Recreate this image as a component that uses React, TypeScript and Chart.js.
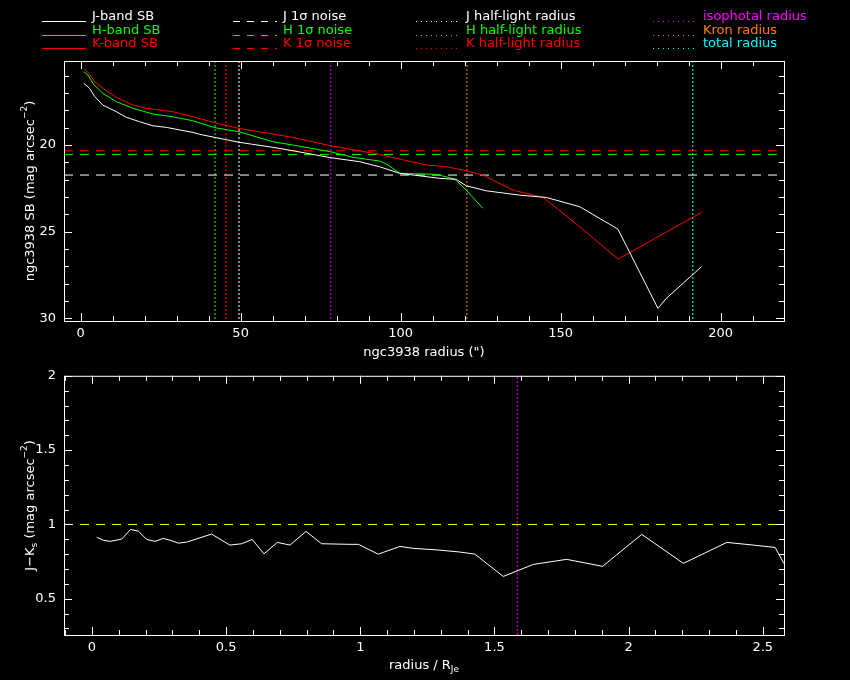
import { useEffect, useRef } from "react"
import { Chart, registerables } from "chart.js"

Chart.register(...registerables)

// surface brightness profiles, radius in arcsec, SB in mag arcsec^-2
const jRadius = [1, 2.8, 4.4, 7, 11.2, 14.3, 18.4, 22.6, 26.8, 31, 35.1, 37.2, 42, 49.5, 60.1, 66.4, 78.2, 87.2, 93.4, 99.7, 112.2, 117.4, 120.5, 126.8, 137.2, 145.5, 156, 167.9, 180.4, 183, 194]
const jSb = [16.44, 16.73, 17.2, 17.7, 18.08, 18.4, 18.65, 18.89, 18.98, 19.13, 19.27, 19.38, 19.56, 19.84, 20.13, 20.33, 20.73, 20.96, 21.25, 21.63, 21.92, 21.98, 22.35, 22.64, 22.89, 23.02, 23.56, 24.85, 29.42, 28.85, 27.02]
const hRadius = [1, 2.3, 4.2, 7, 11.2, 16.4, 22.6, 28.9, 35.1, 42, 49.5, 60.1, 66.4, 78.2, 85.1, 93.4, 96.1, 99.7, 111.2, 116.9, 120.5, 125.7]
const hSb = [15.77, 15.96, 16.54, 17.02, 17.5, 17.88, 18.21, 18.37, 18.6, 19.0, 19.23, 19.81, 20.0, 20.39, 20.71, 20.92, 21.15, 21.63, 21.69, 21.96, 22.6, 23.65]
const kRadius = [1, 2.6, 4.4, 7, 11.2, 16.4, 20.5, 28.9, 35.1, 42, 49.5, 66.4, 78.2, 87.2, 93.4, 97.6, 108, 114.3, 120.5, 125.7, 135.1, 144.5, 156, 167.9, 180.4, 194]
const kSb = [15.58, 15.86, 16.35, 16.73, 17.25, 17.69, 17.88, 18.08, 18.37, 18.71, 19.04, 19.56, 20.04, 20.33, 20.54, 20.72, 21.15, 21.25, 21.48, 21.73, 22.6, 23.02, 24.71, 26.58, 25.29, 23.89]

const bandNames = ["J", "H", "K"]
const bandColors = ["#ffffff", "#00ff00", "#ff0000"]
const noiseLevels = [21.73, 20.54, 20.33] // J, H, K 1 sigma
const halfLightRadii = [49.5, 42.0, 45.4] // J, H, K
const apertureNames = ["isophotal radius", "Kron radius", "total radius"]
const apertureColors = ["#ff00ff", "#ff8000", "#00ffff"]
const apertureRadii = [78.2, 120.7, 191.3]

const radiusRange = [-5.2, 219.8]
const sbRange = [15.15, 30.15]
const radiusTicks = [0, 50, 100, 150, 200]
const sbTicks = [20, 25, 30]

// J-Ks colour profile against radius / R_Je
const relRadius = [0.018, 0.042, 0.067, 0.111, 0.144, 0.173, 0.204, 0.235, 0.266, 0.291, 0.322, 0.353, 0.446, 0.514, 0.558, 0.597, 0.641, 0.691, 0.738, 0.798, 0.856, 0.962, 0.993, 1.067, 1.148, 1.198, 1.297, 1.372, 1.427, 1.533, 1.645, 1.769, 1.903, 2.049, 2.204, 2.366, 2.465, 2.546, 2.577, 2.61]
const colourJK = [0.913, 0.894, 0.886, 0.901, 0.966, 0.955, 0.899, 0.886, 0.906, 0.894, 0.874, 0.881, 0.935, 0.861, 0.87, 0.899, 0.802, 0.879, 0.861, 0.953, 0.87, 0.866, 0.866, 0.8, 0.852, 0.839, 0.827, 0.814, 0.8, 0.65, 0.731, 0.765, 0.718, 0.933, 0.738, 0.879, 0.861, 0.845, 0.742, 0.67]
const colourReference = 1
const isophotalRelRadius = 1.585
const relRadiusRange = [-0.104, 2.579]
const colourRange = [0.256, 2.0]
const relRadiusTicks = [0, 0.5, 1, 1.5, 2, 2.5]
const colourTicks = [0.5, 1, 1.5, 2]

const FONT = "'DejaVu Sans', sans-serif"
const DASHED = [9, 7]
const DOTTED = [2, 2]

type Part = { t: string; s?: "sup" | "sub" }

function drawRich(ctx: CanvasRenderingContext2D, parts: Part[], x: number, y: number, vertical: boolean) {
  ctx.save()
  ctx.translate(x, y)
  if (vertical) ctx.rotate(-Math.PI / 2)
  const fontFor = (p: Part) => `${p.s ? 9 : 13}px ${FONT}`
  let total = 0
  for (const p of parts) {
    ctx.font = fontFor(p)
    total += ctx.measureText(p.t).width
  }
  let cx = -total / 2
  ctx.textBaseline = "middle"
  ctx.textAlign = "left"
  ctx.fillStyle = "#fff"
  for (const p of parts) {
    ctx.font = fontFor(p)
    const dy = p.s === "sup" ? -6 : p.s === "sub" ? 4 : 0
    ctx.fillText(p.t, cx, dy)
    cx += ctx.measureText(p.t).width
  }
  ctx.restore()
}

// PGPLOT-like box: inward ticks on all four sides plus axis titles
const framePlugin = {
  id: "frame",
  afterDraw(chart: any, _args: any, opts: any) {
    const { ctx, chartArea: a, scales } = chart
    ctx.save()
    ctx.strokeStyle = "#fff"
    ctx.lineWidth = 1
    ctx.setLineDash([])
    ctx.strokeRect(a.left + 0.5, a.top + 0.5, a.right - a.left, a.bottom - a.top)
    const each = (scale: any, minor: number, major: number, fn: (p: number, len: number) => void) => {
      const lo = Math.min(scale.min, scale.max)
      const hi = Math.max(scale.min, scale.max)
      for (let i = Math.ceil(lo / minor - 1e-6); i * minor <= hi + 1e-9; i++) {
        const v = i * minor
        const r = v / major
        const isMajor = Math.abs(r - Math.round(r)) < 1e-6
        fn(Math.round(scale.getPixelForValue(v)) + 0.5, isMajor ? 8 : 5)
      }
    }
    ctx.beginPath()
    each(scales.x, opts.xMinor, opts.xMajor, (p, len) => {
      ctx.moveTo(p, a.bottom)
      ctx.lineTo(p, a.bottom - len)
      ctx.moveTo(p, a.top)
      ctx.lineTo(p, a.top + len)
    })
    each(scales.y, opts.yMinor, opts.yMajor, (p, len) => {
      ctx.moveTo(a.left, p)
      ctx.lineTo(a.left + len, p)
      ctx.moveTo(a.right, p)
      ctx.lineTo(a.right - len, p)
    })
    ctx.stroke()
    drawRich(ctx, opts.xTitle, (a.left + a.right) / 2, a.bottom + opts.xTitleGap, false)
    drawRich(ctx, opts.yTitle, opts.yTitleX, (a.top + a.bottom) / 2, true)
    ctx.restore()
  },
}

const legendCols = [92, 283, 466, 703]
const legendRows = [17, 31, 44]

// 4 x 3 legend above the plot, filled pixel runs so the samples stay crisp
const legendPlugin = {
  id: "gridLegend",
  afterDraw(chart: any) {
    const { ctx } = chart
    ctx.save()
    ctx.font = `13px ${FONT}`
    ctx.textBaseline = "middle"
    ctx.textAlign = "left"
    chart.data.datasets.forEach((ds: any, i: number) => {
      const x = legendCols[Math.floor(i / 3)]
      const y = legendRows[i % 3]
      const ly = y + 4
      const pattern = ds.borderDash && ds.borderDash.length ? (ds.borderDash[0] > 4 ? [7, 7] : [1, 4]) : [44, 0]
      ctx.fillStyle = ds.borderColor
      for (let px = x - 50; px < x - 6; px += pattern[0] + pattern[1]) {
        ctx.fillRect(px, ly, Math.min(pattern[0], x - 6 - px), 1)
      }
      ctx.fillText(ds.label, x, y)
    })
    ctx.restore()
  },
}

const tickFont = { family: FONT, size: 13 }
const plainLabel = (v: number | string) => String(Number(v))

function axes(xRange: number[], yRange: number[], xTicks: number[], yTicks: number[], xHeight: number, reverse: boolean) {
  return {
    x: {
      type: "linear" as const,
      min: xRange[0],
      max: xRange[1],
      grid: { display: false, drawTicks: false },
      border: { display: false },
      ticks: { color: "#fff", font: tickFont, padding: 5, maxRotation: 0, autoSkip: false, callback: plainLabel },
      afterBuildTicks: (s: any) => {
        s.ticks = xTicks.map((v) => ({ value: v }))
      },
      afterFit: (s: any) => {
        s.height = xHeight
      },
    },
    y: {
      type: "linear" as const,
      reverse,
      min: yRange[0],
      max: yRange[1],
      grid: { display: false, drawTicks: false },
      border: { display: false },
      ticks: { color: "#fff", font: tickFont, padding: 8, autoSkip: false, callback: plainLabel },
      afterBuildTicks: (s: any) => {
        s.ticks = yTicks.map((v) => ({ value: v }))
      },
      afterFit: (s: any) => {
        s.width = 64
      },
    },
  }
}

function ProfileChart() {
  const ref = useRef<HTMLCanvasElement>(null)
  useEffect(() => {
    if (!ref.current) return
    const profiles = [
      [jRadius, jSb],
      [hRadius, hSb],
      [kRadius, kSb],
    ]
    const sbSets = profiles.map(([r, sb], i) => ({
      label: `${bandNames[i]}-band SB`,
      data: r.map((x, k) => ({ x, y: sb[k] })),
      borderColor: bandColors[i],
      borderDash: [] as number[],
    }))
    const noiseSets = noiseLevels.map((lv, i) => ({
      label: `${bandNames[i]} 1σ noise`,
      data: [
        { x: radiusRange[0], y: lv },
        { x: radiusRange[1], y: lv },
      ],
      borderColor: bandColors[i],
      borderDash: DASHED,
    }))
    const halfSets = halfLightRadii.map((r, i) => ({
      label: `${bandNames[i]} half-light radius`,
      data: [
        { x: r, y: sbRange[0] },
        { x: r, y: sbRange[1] },
      ],
      borderColor: bandColors[i],
      borderDash: DOTTED,
    }))
    const apSets = apertureRadii.map((r, i) => ({
      label: apertureNames[i],
      data: [
        { x: r, y: sbRange[0] },
        { x: r, y: sbRange[1] },
      ],
      borderColor: apertureColors[i],
      borderDash: DOTTED,
    }))
    const chart = new Chart(ref.current, {
      type: "line",
      data: { datasets: [...sbSets, ...noiseSets, ...halfSets, ...apSets] },
      options: {
        animation: false,
        responsive: false,
        events: [],
        layout: { padding: { top: 61, right: 66, left: 0, bottom: 0 } },
        elements: { point: { radius: 0 }, line: { borderWidth: 1, tension: 0 } },
        plugins: {
          legend: { display: false },
          tooltip: { enabled: false },
          frame: {
            xMinor: 10,
            xMajor: 50,
            yMinor: 1,
            yMajor: 5,
            xTitle: [{ t: 'ngc3938 radius (")' }],
            xTitleGap: 32,
            yTitle: [{ t: "ngc3938 SB (mag arcsec" }, { t: "−2", s: "sup" }, { t: ")" }],
            yTitleX: 31,
          },
        } as any,
        scales: axes(radiusRange, sbRange, radiusTicks, sbTicks, 39, true),
      },
      plugins: [framePlugin, legendPlugin],
    })
    return () => chart.destroy()
  }, [])
  return <canvas ref={ref} width={850} height={360} style={{ position: "absolute", left: 0, top: 0 }} />
}

function ColourChart() {
  const ref = useRef<HTMLCanvasElement>(null)
  useEffect(() => {
    if (!ref.current) return
    const chart = new Chart(ref.current, {
      type: "line",
      data: {
        datasets: [
          {
            label: "J-Ks",
            data: relRadius.map((x, k) => ({ x, y: colourJK[k] })),
            borderColor: "#ffffff",
          },
          {
            label: "reference",
            data: [
              { x: relRadiusRange[0], y: colourReference },
              { x: relRadiusRange[1], y: colourReference },
            ],
            borderColor: "#ffff00",
            borderDash: DASHED,
          },
          {
            label: "isophotal radius",
            data: [
              { x: isophotalRelRadius, y: colourRange[0] },
              { x: isophotalRelRadius, y: colourRange[1] },
            ],
            borderColor: "#ff00ff",
            borderDash: DOTTED,
          },
        ],
      },
      options: {
        animation: false,
        responsive: false,
        events: [],
        layout: { padding: { top: 15, right: 66, left: 0, bottom: 0 } },
        elements: { point: { radius: 0 }, line: { borderWidth: 1, tension: 0 } },
        plugins: {
          legend: { display: false },
          tooltip: { enabled: false },
          frame: {
            xMinor: 0.1,
            xMajor: 0.5,
            yMinor: 0.1,
            yMajor: 0.5,
            xTitle: [{ t: "radius / R" }, { t: "Je", s: "sub" }],
            xTitleGap: 31,
            yTitle: [{ t: "J−K" }, { t: "s", s: "sub" }, { t: " (mag arcsec" }, { t: "−2", s: "sup" }, { t: ")" }],
            yTitleX: 31,
          },
        } as any,
        scales: axes(relRadiusRange, colourRange, relRadiusTicks, colourTicks, 45, false),
      },
      plugins: [framePlugin],
    })
    return () => chart.destroy()
  }, [])
  return <canvas ref={ref} width={850} height={320} style={{ position: "absolute", left: 0, top: 360 }} />
}

export default function App() {
  return (
    <div style={{ position: "fixed", left: 0, top: 0, width: 850, height: 680, background: "#000", overflow: "hidden" }}>
      <ProfileChart />
      <ColourChart />
    </div>
  )
}
